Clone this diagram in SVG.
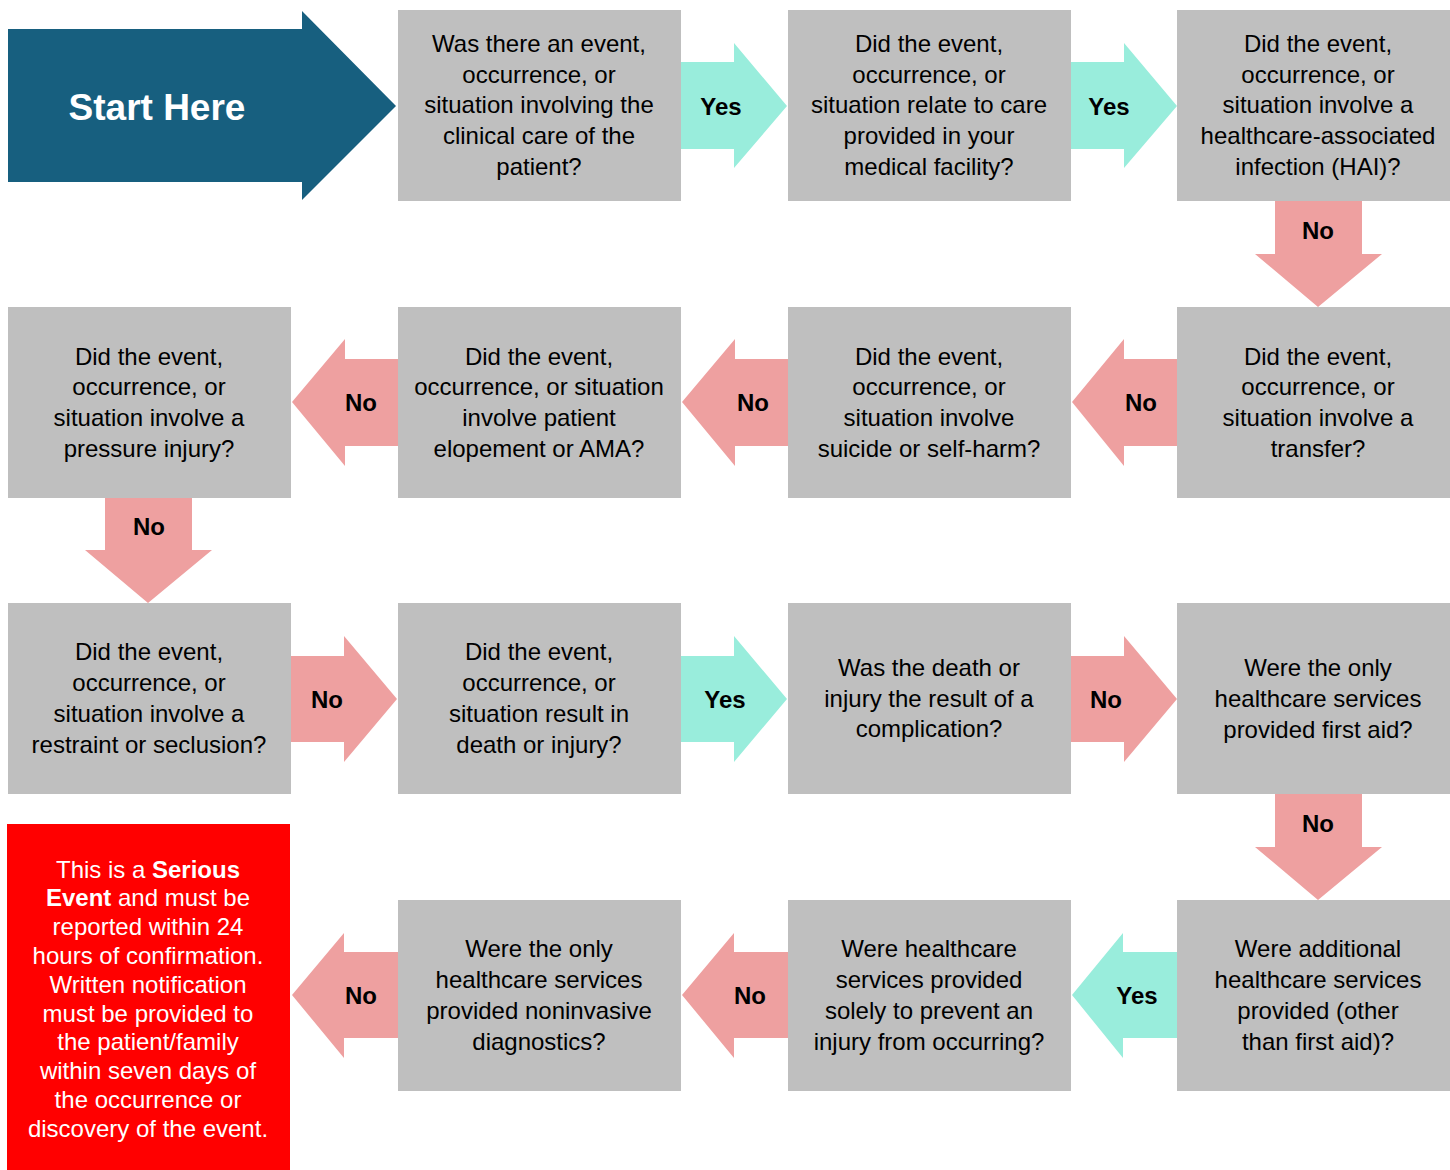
<svg xmlns="http://www.w3.org/2000/svg" width="1450" height="1170" viewBox="0 0 1450 1170">
<style>
.box{fill:#BFBFBF}
.t{font-family:"Liberation Sans",Arial,sans-serif;font-size:24px;fill:#000;text-anchor:middle}
.lbl{font-family:"Liberation Sans",Arial,sans-serif;font-size:24px;font-weight:bold;fill:#000;text-anchor:middle}
.yes{fill:#99EDDC}
.no{fill:#EEA0A0}
.w{font-family:"Liberation Sans",Arial,sans-serif;font-size:24px;fill:#fff;text-anchor:middle}
</style>
<rect width="1450" height="1170" fill="#fff"/>
<g id="start">
<polygon points="8,29 302,29 302,11 396,106 302,200 302,182 8,182" fill="#175F7F"/>
<text x="157" y="120" font-family="Liberation Sans,Arial,sans-serif" font-size="37" font-weight="bold" fill="#fff" text-anchor="middle">Start Here</text>
</g>
<g id="q1"><rect class="box" x="398" y="10" width="283" height="191"/>
<text class="t" x="539"><tspan x="539" y="52">Was there an event,</tspan><tspan x="539" y="83">occurrence, or</tspan><tspan x="539" y="113">situation involving the</tspan><tspan x="539" y="144">clinical care of the</tspan><tspan x="539" y="175">patient?</tspan></text></g>
<g id="q2"><rect class="box" x="788" y="10" width="283" height="191"/>
<text class="t"><tspan x="929" y="52">Did the event,</tspan><tspan x="929" y="83">occurrence, or</tspan><tspan x="929" y="113">situation relate to care</tspan><tspan x="929" y="144">provided in your</tspan><tspan x="929" y="175">medical facility?</tspan></text></g>
<g id="q3"><rect class="box" x="1177" y="10" width="273" height="191"/>
<text class="t"><tspan x="1318" y="52">Did the event,</tspan><tspan x="1318" y="83">occurrence, or</tspan><tspan x="1318" y="113">situation involve a</tspan><tspan x="1318" y="144">healthcare-associated</tspan><tspan x="1318" y="175">infection (HAI)?</tspan></text></g>
<g id="q4"><rect class="box" x="1177" y="307" width="273" height="191"/>
<text class="t"><tspan x="1318" y="365">Did the event,</tspan><tspan x="1318" y="395">occurrence, or</tspan><tspan x="1318" y="426">situation involve a</tspan><tspan x="1318" y="457">transfer?</tspan></text></g>
<g id="q5"><rect class="box" x="788" y="307" width="283" height="191"/>
<text class="t"><tspan x="929" y="365">Did the event,</tspan><tspan x="929" y="395">occurrence, or</tspan><tspan x="929" y="426">situation involve</tspan><tspan x="929" y="457">suicide or self-harm?</tspan></text></g>
<g id="q6"><rect class="box" x="398" y="307" width="283" height="191"/>
<text class="t"><tspan x="539" y="365">Did the event,</tspan><tspan x="539" y="395">occurrence, or situation</tspan><tspan x="539" y="426">involve patient</tspan><tspan x="539" y="457">elopement or AMA?</tspan></text></g>
<g id="q7"><rect class="box" x="8" y="307" width="283" height="191"/>
<text class="t"><tspan x="149" y="365">Did the event,</tspan><tspan x="149" y="395">occurrence, or</tspan><tspan x="149" y="426">situation involve a</tspan><tspan x="149" y="457">pressure injury?</tspan></text></g>
<g id="q8"><rect class="box" x="8" y="603" width="283" height="191"/>
<text class="t"><tspan x="149" y="660">Did the event,</tspan><tspan x="149" y="691">occurrence, or</tspan><tspan x="149" y="722">situation involve a</tspan><tspan x="149" y="753">restraint or seclusion?</tspan></text></g>
<g id="q9"><rect class="box" x="398" y="603" width="283" height="191"/>
<text class="t"><tspan x="539" y="660">Did the event,</tspan><tspan x="539" y="691">occurrence, or</tspan><tspan x="539" y="722">situation result in</tspan><tspan x="539" y="753">death or injury?</tspan></text></g>
<g id="q10"><rect class="box" x="788" y="603" width="283" height="191"/>
<text class="t"><tspan x="929" y="676">Was the death or</tspan><tspan x="929" y="707">injury the result of a</tspan><tspan x="929" y="737">complication?</tspan></text></g>
<g id="q11"><rect class="box" x="1177" y="603" width="273" height="191"/>
<text class="t"><tspan x="1318" y="676">Were the only</tspan><tspan x="1318" y="707">healthcare services</tspan><tspan x="1318" y="738">provided first aid?</tspan></text></g>
<g id="q12"><rect class="box" x="1177" y="900" width="273" height="191"/>
<text class="t"><tspan x="1318" y="957">Were additional</tspan><tspan x="1318" y="988">healthcare services</tspan><tspan x="1318" y="1019">provided (other</tspan><tspan x="1318" y="1050">than first aid)?</tspan></text></g>
<g id="q13"><rect class="box" x="788" y="900" width="283" height="191"/>
<text class="t"><tspan x="929" y="957">Were healthcare</tspan><tspan x="929" y="988">services provided</tspan><tspan x="929" y="1019">solely to prevent an</tspan><tspan x="929" y="1050">injury from occurring?</tspan></text></g>
<g id="q14"><rect class="box" x="398" y="900" width="283" height="191"/>
<text class="t"><tspan x="539" y="957">Were the only</tspan><tspan x="539" y="988">healthcare services</tspan><tspan x="539" y="1019">provided noninvasive</tspan><tspan x="539" y="1050">diagnostics?</tspan></text></g>
<g id="serious"><rect x="7" y="824" width="283" height="346" fill="#FF0000"/>
<text class="w"><tspan x="148" y="878">This is a <tspan font-weight="bold">Serious</tspan></tspan><tspan x="148" y="906"><tspan font-weight="bold">Event</tspan> and must be</tspan><tspan x="148" y="935">reported within 24</tspan><tspan x="148" y="964">hours of confirmation.</tspan><tspan x="148" y="993">Written notification</tspan><tspan x="148" y="1022">must be provided to</tspan><tspan x="148" y="1050">the patient/family</tspan><tspan x="148" y="1079">within seven days of</tspan><tspan x="148" y="1108">the occurrence or</tspan><tspan x="148" y="1137">discovery of the event.</tspan></text></g>
<g id="connectors">
<polygon class="yes" points="681,62 734,62 734,43 787,106 734,168 734,149 681,149"/>
<text class="lbl" x="721" y="115">Yes</text>
<polygon class="yes" points="1071,62 1124,62 1124,43 1177,106 1124,168 1124,149 1071,149"/>
<text class="lbl" x="1109" y="115">Yes</text>
<polygon class="no" points="1275,201 1362,201 1362,254 1382,254 1318,307 1255,254 1275,254"/>
<text class="lbl" x="1318" y="239">No</text>
<polygon class="no" points="1177,359 1124,359 1124,339 1072,402 1124,466 1124,446 1177,446"/>
<text class="lbl" x="1141" y="411">No</text>
<polygon class="no" points="788,359 735,359 735,339 682,402 735,466 735,446 788,446"/>
<text class="lbl" x="753" y="411">No</text>
<polygon class="no" points="398,359 345,359 345,339 292,402 345,466 345,446 398,446"/>
<text class="lbl" x="361" y="411">No</text>
<polygon class="no" points="105,498 192,498 192,550 212,550 148,603 85,550 105,550"/>
<text class="lbl" x="149" y="535">No</text>
<polygon class="no" points="291,656 344,656 344,636 397,699 344,762 344,742 291,742"/>
<text class="lbl" x="327" y="708">No</text>
<polygon class="yes" points="681,656 734,656 734,636 787,699 734,762 734,742 681,742"/>
<text class="lbl" x="725" y="708">Yes</text>
<polygon class="no" points="1071,656 1124,656 1124,636 1177,699 1124,762 1124,742 1071,742"/>
<text class="lbl" x="1106" y="708">No</text>
<polygon class="no" points="1275,794 1362,794 1362,847 1382,847 1318,900 1255,847 1275,847"/>
<text class="lbl" x="1318" y="832">No</text>
<polygon class="yes" points="1177,952 1123,952 1123,933 1072,995 1123,1058 1123,1038 1177,1038"/>
<text class="lbl" x="1137" y="1004">Yes</text>
<polygon class="no" points="788,952 734,952 734,933 682,995 734,1058 734,1038 788,1038"/>
<text class="lbl" x="750" y="1004">No</text>
<polygon class="no" points="398,952 344,952 344,933 292,995 344,1058 344,1038 398,1038"/>
<text class="lbl" x="361" y="1004">No</text>
</g>
</svg>
